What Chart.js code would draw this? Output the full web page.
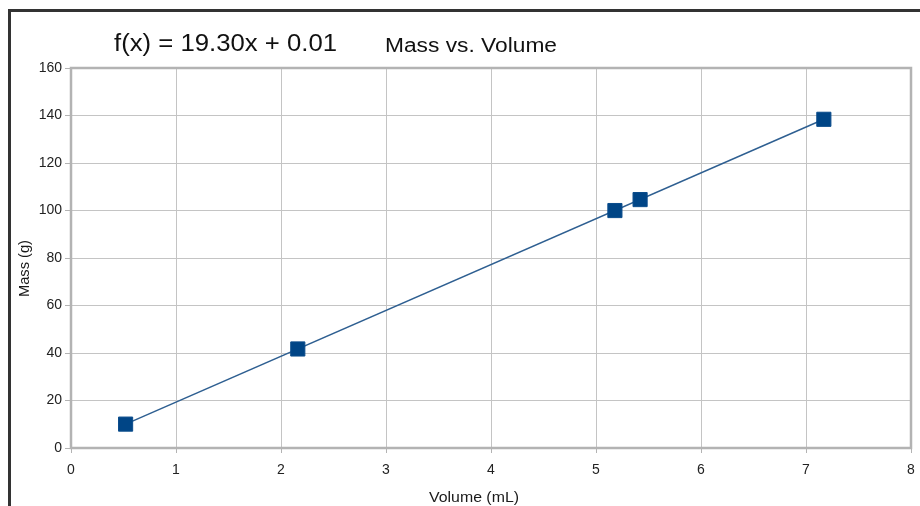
<!DOCTYPE html>
<html>
<head>
<meta charset="utf-8">
<title>Mass vs. Volume</title>
<script src="https://cdn.jsdelivr.net/npm/chart.js@4/dist/chart.umd.min.js"></script>
<style>
    html, body { margin: 0; padding: 0; background: #ffffff; }
    #wrap { width: 920px; height: 506px; position: relative; }
</style>
</head>
<body>
<div id="wrap"><canvas id="massChart" width="920" height="506"></canvas></div>
<script>
/* Données */
var volumes = [0.52, 2.16, 5.18, 5.42, 7.17];
var masses = [10.05, 41.7, 99.98, 104.6, 138.4];
var trendVolumes = [0.52, 7.17];
var trendMasses = [10.05, 138.4];
var xTicks = [0, 1, 2, 3, 4, 5, 6, 7, 8];
var yTicks = [0, 20, 40, 60, 80, 100, 120, 140, 160];
var equationText = 'f(x) = 19.30x + 0.01';
var titleText = 'Mass vs. Volume';
var xTitleText = 'Volume (mL)';
var yTitleText = 'Mass (g)';

(function () {
    'use strict';

    var FONT = '"Liberation Sans", Arial, sans-serif';

    var points = volumes.map(function (v, i) { return { x: v, y: masses[i] }; });
    var trend = trendVolumes.map(function (v, i) { return { x: v, y: trendMasses[i] }; });

    /* Texte étiré horizontalement pour tenir dans une largeur donnée */
    function fitText(ctx, text, x, y, width, size) {
        ctx.font = size + 'px ' + FONT;
        var w = ctx.measureText(text).width;
        ctx.save();
        ctx.translate(x, y);
        ctx.scale(width / w, 1);
        ctx.fillText(text, 0, 0);
        ctx.restore();
    }

    /* Cadre, bordure de la zone de tracé et textes */
    var decor = {
        id: 'decor',
        beforeDatasetsDraw: function (chart) {
            var ctx = chart.ctx, a = chart.chartArea;
            ctx.save();
            ctx.strokeStyle = '#b3b3b3';
            ctx.lineWidth = 2.5;
            ctx.strokeRect(a.left, a.top, a.right - a.left, a.bottom - a.top);
            ctx.restore();
        },
        afterDraw: function (chart) {
            var ctx = chart.ctx;
            ctx.save();
            ctx.fillStyle = '#333333';
            ctx.fillRect(8, 9, 920, 3);
            ctx.fillRect(8, 9, 3, 506);
            ctx.fillStyle = '#111111';
            ctx.textBaseline = 'alphabetic';
            ctx.textAlign = 'left';
            fitText(ctx, equationText, 114, 51, 223, 23);
            fitText(ctx, titleText, 385, 51.5, 172, 20);
            ctx.fillStyle = '#1a1a1a';
            fitText(ctx, xTitleText, 429, 502, 90, 14);
            ctx.save();
            ctx.translate(29, 297);
            ctx.rotate(-Math.PI / 2);
            fitText(ctx, yTitleText, 0, 0, 57, 14);
            ctx.restore();
            ctx.restore();
        }
    };

    new Chart(document.getElementById('massChart').getContext('2d'), {
        type: 'scatter',
        data: {
            datasets: [{
                label: 'Trend',
                data: trend,
                showLine: true,
                borderColor: '#2e5f91',
                borderWidth: 1.5,
                pointRadius: 0,
                order: 2
            }, {
                label: 'Mass',
                data: points,
                showLine: false,
                pointStyle: 'rect',
                pointRadius: 10,
                backgroundColor: '#004586',
                borderColor: '#0b4d8c',
                borderWidth: 1,
                order: 1
            }]
        },
        options: {
            responsive: false,
            animation: false,
            layout: { autoPadding: false, padding: { left: 0, top: 68, right: 9, bottom: 0 } },
            plugins: {
                legend: { display: false },
                tooltip: { enabled: false }
            },
            scales: {
                x: {
                    type: 'linear',
                    min: 0,
                    max: 8,
                    afterBuildTicks: function (s) { s.ticks = xTicks.map(function (v) { return { value: v }; }); },
                    afterFit: function (s) { s.height = 58; s.paddingLeft = 0; s.paddingRight = 0; },
                    grid: { color: '#c4c4c4', lineWidth: 1, tickLength: 5, tickColor: '#b3b3b3' },
                    border: { display: false },
                    ticks: { color: '#222222', font: { family: FONT, size: 14 }, padding: 9, maxRotation: 0 }
                },
                y: {
                    type: 'linear',
                    min: 0,
                    max: 160,
                    afterBuildTicks: function (s) { s.ticks = yTicks.map(function (v) { return { value: v }; }); },
                    afterFit: function (s) { s.width = 71; s.paddingTop = 0; s.paddingBottom = 0; },
                    grid: { color: '#c4c4c4', lineWidth: 1, tickLength: 6, tickColor: '#b3b3b3' },
                    border: { display: false },
                    ticks: { color: '#222222', font: { family: FONT, size: 14 }, padding: 3 }
                }
            }
        },
        plugins: [decor]
    });
}());
</script>
</body>
</html>
